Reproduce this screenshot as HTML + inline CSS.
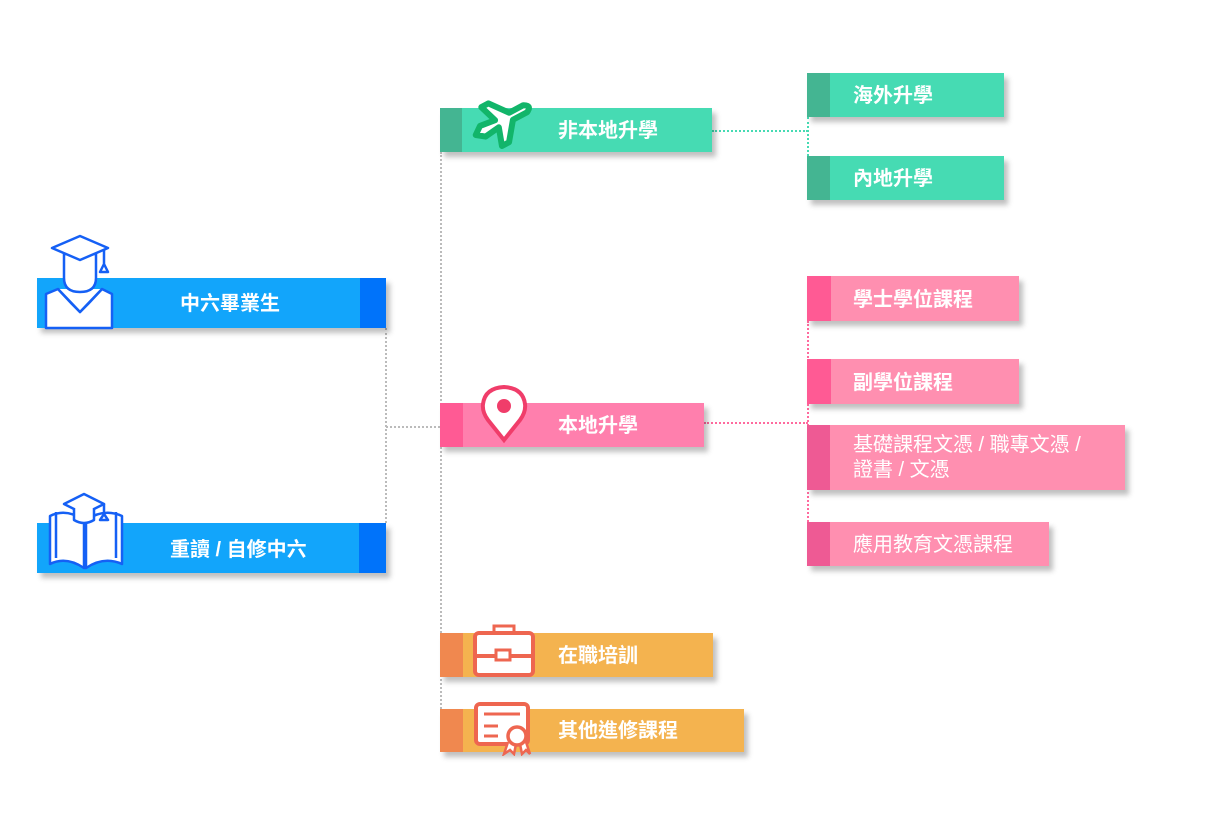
<!DOCTYPE html>
<html><head><meta charset="utf-8"><style>
body{margin:0;width:1210px;height:818px;background:#fff;position:relative;overflow:hidden;font-family:"Liberation Sans","Noto Sans CJK TC",sans-serif}
.b{position:absolute;box-shadow:4px 5px 5px rgba(0,0,0,.25)}
.a{position:absolute;left:0;top:0;bottom:0}
.t{position:absolute;color:#fff;font-weight:bold;font-size:20px;white-space:nowrap;line-height:26px}
.v{position:absolute;border-left:2px dotted #bbb;width:0}
.h{position:absolute;border-top:2px dotted #bbb;height:0}
svg{position:absolute}
</style></head><body>
<div class="v" style="left:385px;top:328px;height:195px"></div>
<div class="h" style="left:386px;top:426px;width:54px"></div>
<div class="v" style="left:440px;top:152px;height:557px"></div>
<div class="h" style="left:712px;top:130px;width:96px;border-color:#46dbb3"></div>
<div class="v" style="left:807px;top:117px;height:39px;border-color:#46dbb3"></div>
<div class="h" style="left:704px;top:422px;width:104px;border-color:#ff6a9e"></div>
<div class="v" style="left:807px;top:321px;height:201px;border-color:#ff6a9e"></div>

<div class="b" style="left:37px;top:278px;width:349px;height:50px;background:#12a5fb"><div class="a" style="left:323px;width:26px;background:#0073fa"></div><div class="t" style="left:143px;top:13px">中六畢業生</div></div>
<div class="b" style="left:37px;top:523px;width:349px;height:50px;background:#12a5fb"><div class="a" style="left:322px;width:27px;background:#0073fa"></div><div class="t" style="left:133px;top:14px">重讀 / 自修中六</div></div>
<svg style="left:44px;top:234px" width="72" height="96" viewBox="0 0 72 96" fill="#fff" stroke="#1560f5" stroke-width="2.5" stroke-linejoin="round"><path d="M2 60 L14 55 L28 70 L36 78 L44 70 L58 55 L68 60 L68 94 L2 94Z"/><path d="M14 55 L36 78 L58 55"/><path d="M20 20 L20 44 Q20 58 36 58 Q52 58 52 44 L52 20Z"/><path d="M8 14 L36 2 L64 14 L36 26Z"/><path d="M60 15 L60 30 M56 38 L60 30 L64 38Z"/></svg>
<svg style="left:46px;top:492px" width="80" height="80" viewBox="0 0 80 80" fill="#fff" stroke="#1560f5" stroke-width="2.5" stroke-linejoin="round"><path d="M4 24 L4 72 Q20 64 38 76 L38 28 Q20 16 4 24Z"/><path d="M76 24 L76 72 Q58 64 40 76 L40 28 Q58 16 76 24Z"/><path d="M10 20 L10 66 M70 20 L70 66"/><path d="M18 12 L38 2 L58 12 L38 22Z"/><path d="M28 16 L28 28 Q38 34 48 28 L48 16"/><path d="M58 12 L58 22 M54 28 L58 22 L62 28Z"/></svg>

<div class="b" style="left:440px;top:108px;width:272px;height:44px;background:#46dbb3"><div class="a" style="width:22px;background:#44b592"></div><div class="t" style="left:118px;top:10px">非本地升學</div></div>
<svg style="left:466px;top:90px" width="76" height="60" viewBox="0 0 76 60"><g transform="rotate(-28 38 30)"><path d="M6 30 L14 24 L30 26 L24 8 L32 8 L46 26 L62 26 Q70 30 62 34 L46 34 L32 52 L24 52 L30 34 L14 36Z" fill="#fff" stroke="#12b56a" stroke-width="6" stroke-linejoin="round"/></g></svg>

<div class="b" style="left:440px;top:403px;width:264px;height:44px;background:#ff7fad"><div class="a" style="width:23px;background:#ff5a94"></div><div class="t" style="left:118px;top:10px">本地升學</div></div>
<svg style="left:480px;top:384px" width="48" height="60" viewBox="0 0 48 60"><path d="M24 56 L8 36 Q2 28 3 20 Q5 4 24 3 Q43 4 45 20 Q46 28 40 36Z" fill="#fff" stroke="#f03d6a" stroke-width="4"/><circle cx="24" cy="22" r="7" fill="#f03d6a"/></svg>

<div class="b" style="left:440px;top:633px;width:273px;height:44px;background:#f4b34f"><div class="a" style="width:23px;background:#f0884f"></div><div class="t" style="left:118px;top:10px">在職培訓</div></div>
<svg style="left:472px;top:624px" width="66" height="54" viewBox="0 0 66 54"><rect x="22" y="2" width="20" height="8" fill="#fff" stroke="#ee6650" stroke-width="3"/><rect x="3" y="9" width="58" height="42" rx="4" fill="#fff" stroke="#ee6650" stroke-width="4"/><path d="M3 32 H61" stroke="#ee6650" stroke-width="4"/><rect x="24" y="26" width="14" height="10" fill="#fff" stroke="#ee6650" stroke-width="3"/></svg>

<div class="b" style="left:440px;top:709px;width:304px;height:43px;background:#f4b34f"><div class="a" style="width:23px;background:#f0884f"></div><div class="t" style="left:118px;top:9px">其他進修課程</div></div>
<svg style="left:472px;top:700px" width="66" height="56" viewBox="0 0 66 56"><rect x="4" y="4" width="52" height="40" rx="4" fill="#fff" stroke="#ee6650" stroke-width="4"/><path d="M12 14 H48 M12 26 H26 M12 36 H26" stroke="#ee6650" stroke-width="3"/><path d="M36 42 L32 54 L38 50 L42 54 L44 44 M48 44 L50 54 L54 50 L58 54 L54 42" fill="#fff" stroke="#ee6650" stroke-width="2.5"/><circle cx="45" cy="36" r="9" fill="#fff" stroke="#ee6650" stroke-width="3.5"/></svg>

<div class="b" style="left:807px;top:73px;width:197px;height:44px;background:#46dbb3"><div class="a" style="width:23px;background:#44b592"></div><div class="t" style="left:46px;top:10px">海外升學</div></div>
<div class="b" style="left:807px;top:156px;width:197px;height:44px;background:#46dbb3"><div class="a" style="width:23px;background:#44b592"></div><div class="t" style="left:46px;top:10px">內地升學</div></div>

<div class="b" style="left:807px;top:276px;width:212px;height:45px;background:#ff8fb0"><div class="a" style="width:24px;background:#ff5a94"></div><div class="t" style="left:46px;top:11px">學士學位課程</div></div>
<div class="b" style="left:807px;top:359px;width:212px;height:45px;background:#ff8fb0"><div class="a" style="width:24px;background:#ff5a94"></div><div class="t" style="left:46px;top:11px">副學位課程</div></div>
<div class="b" style="left:807px;top:425px;width:318px;height:65px;background:#ff8fb0"><div class="a" style="width:23px;background:#ee5a94"></div><div class="t" style="left:46px;top:8px;line-height:25px;font-weight:normal">基礎課程文憑 / 職專文憑 /<br>證書 / 文憑</div></div>
<div class="b" style="left:807px;top:522px;width:242px;height:44px;background:#ff8fb0"><div class="a" style="width:23px;background:#ee5a94"></div><div class="t" style="left:46px;top:10px;font-weight:normal">應用教育文憑課程</div></div>
</body></html>
